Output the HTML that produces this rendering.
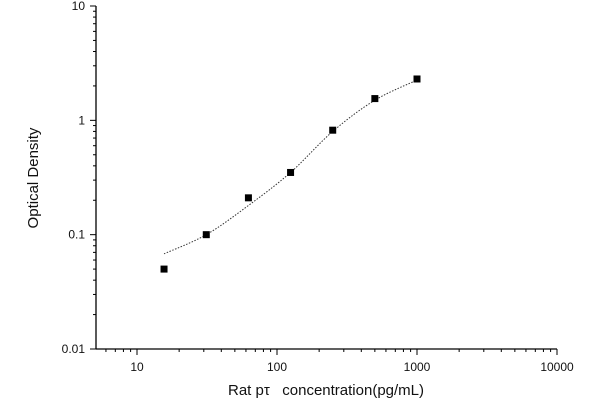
<!DOCTYPE html>
<html><head><meta charset="utf-8"><style>
html,body{margin:0;padding:0;background:#fff;}
svg{display:block;font-family:"Liberation Sans",Arial,sans-serif;}
</style></head><body>
<svg id="chart" width="600" height="400" viewBox="0 0 600 400">
<g id="axes"></g>
<path id="fit" fill="none" stroke="#333" stroke-width="1" stroke-dasharray="1.5,1.5"></path>
<g id="pts"></g>
<text x="0" y="0" transform="translate(38,178) rotate(-90)" text-anchor="middle" font-size="15" fill="#111">Optical Density</text>
<text x="326" y="395" text-anchor="middle" font-size="15" fill="#111" xml:space="preserve">Rat pτ   concentration(pg/mL)</text>
</svg>
<script>
const conc = [15.6, 31.25, 62.5, 125, 250, 500, 1000];
const od = [0.05, 0.1, 0.21, 0.35, 0.82, 1.55, 2.3];
const curveX = [15.6, 31.25, 62.5, 125, 250, 500, 1000];
const curveY = [0.068, 0.1, 0.18, 0.35, 0.8, 1.5, 2.25];
const xTicks = [10, 100, 1000, 10000];
const xTickLabels = ["10", "100", "1000", "10000"];
const yTicks = [0.01, 0.1, 1, 10];
const yTickLabels = ["0.01", "0.1", "1", "10"];

const NS = "http://www.w3.org/2000/svg";
const X0 = 96, XR = 557, YB = 349, YT = 6;
function sx(v){ return 137 + 140 * (Math.log10(v) - 1); }
function sy(v){ return YB - 114.33 * (Math.log10(v) + 2); }
function mk(tag, attrs, parent){ const e = document.createElementNS(NS, tag); for (const k in attrs) e.setAttribute(k, attrs[k]); parent.appendChild(e); return e; }

const axes = document.getElementById('axes');
const xl = mk('line', {x1:X0, y1:YB, x2:XR, y2:YB, stroke:'#000', 'stroke-width':1.3}, axes);


const yl = mk('line', {x1:X0, y1:YB, x2:X0, y2:YT, stroke:'#000', 'stroke-width':1.3}, axes);



// x minor ticks
for (let d = 0; d < 4; d++) {
  for (let m = 1; m <= 9; m++) {
    const v = m * Math.pow(10, d);
    const x = sx(v);
    if (x < X0 - 0.5 || x > XR + 0.5) continue;
    const len = m === 1 ? 6 : 3;
    const t = mk('line', {x1:x, y1:YB, x2:x, y2:YB + len, stroke:'#000', 'stroke-width':1}, axes);
    
    
  }
}
const xt = mk('line', {x1:sx(10000), y1:YB, x2:sx(10000), y2:YB+6, stroke:'#000', 'stroke-width':1}, axes);


xTicks.forEach((v, i) => {
  const t = mk('text', {x:sx(v), y:371, 'text-anchor':'middle', 'font-size':12, fill:'#111'}, axes);
  t.textContent = xTickLabels[i];
  
  
});
// y ticks
for (let d = -2; d < 1; d++) {
  for (let m = 1; m <= 9; m++) {
    const y = sy(m * Math.pow(10, d));
    const len = m === 1 ? 6 : 3;
    const t = mk('line', {x1:X0, y1:y, x2:X0 - len, y2:y, stroke:'#000', 'stroke-width':1}, axes);
    
    
  }
}
const yt = mk('line', {x1:X0, y1:sy(10), x2:X0-6, y2:sy(10), stroke:'#000', 'stroke-width':1}, axes);


yTicks.forEach((v, i) => {
  const t = mk('text', {x:85, y:sy(v) + 4, 'text-anchor':'end', 'font-size':12, fill:'#111'}, axes);
  t.textContent = yTickLabels[i];
  
  
});

// fit curve: Catmull-Rom through curve points in pixel space
const P = curveX.map((v, i) => [sx(v), sy(curveY[i])]);
let d = 'M' + P[0][0] + ',' + P[0][1];
for (let i = 0; i < P.length - 1; i++) {
  const p0 = P[i-1] || P[i], p1 = P[i], p2 = P[i+1], p3 = P[i+2] || P[i+1];
  const c1 = [p1[0] + (p2[0]-p0[0])/6, p1[1] + (p2[1]-p0[1])/6];
  const c2 = [p2[0] - (p3[0]-p1[0])/6, p2[1] - (p3[1]-p1[1])/6];
  d += ' C' + c1 + ' ' + c2 + ' ' + p2;
}
document.getElementById('fit').setAttribute('d', d);

const pts = document.getElementById('pts');
conc.forEach((c, i) => {
  const r = mk('rect', {x:sx(c) - 3.5, y:sy(od[i]) - 3.5, width:7, height:7, fill:'#000'}, pts);
  
  
});
</script>
</body></html>
